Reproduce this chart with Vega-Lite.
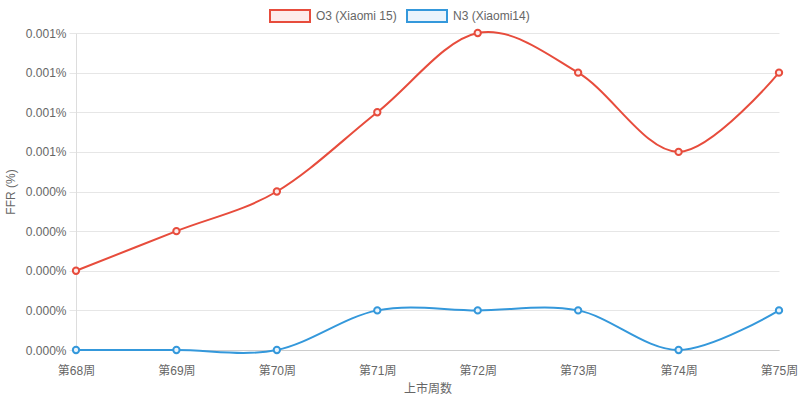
{
  "$schema": "https://vega.github.io/schema/vega-lite/v6.json",
  "autosize": {"type": "fit", "contains": "padding"},
  "width": 800,
  "height": 401,
  "padding": {"left": 4, "right": 2, "top": 25, "bottom": 7},
  "config": {
    "view": {"stroke": null},
    "font": "Liberation Sans, Noto Sans CJK SC",
    "axis": {
      "labelFont": "Liberation Sans, Noto Sans CJK SC",
      "titleFont": "Liberation Sans, Noto Sans CJK SC",
      "labelFontSize": 12,
      "labelColor": "#666666",
      "titleFontSize": 12,
      "titleFontWeight": "normal",
      "titleColor": "#666666",
      "gridColor": "#e6e6e6",
      "domainColor": "#dddddd",
      "tickColor": "#e6e6e6"
    },
    "legend": {
      "labelFont": "Liberation Sans, Noto Sans CJK SC",
      "labelFontSize": 12,
      "labelColor": "#666666"
    }
  },
  "data": {
    "values": [
      {"week": "第68周", "series": "O3 (Xiaomi 15)", "ffr": 0.0002},
      {"week": "第69周", "series": "O3 (Xiaomi 15)", "ffr": 0.0003},
      {"week": "第70周", "series": "O3 (Xiaomi 15)", "ffr": 0.0004},
      {"week": "第71周", "series": "O3 (Xiaomi 15)", "ffr": 0.0006},
      {"week": "第72周", "series": "O3 (Xiaomi 15)", "ffr": 0.0008},
      {"week": "第73周", "series": "O3 (Xiaomi 15)", "ffr": 0.0007},
      {"week": "第74周", "series": "O3 (Xiaomi 15)", "ffr": 0.0005},
      {"week": "第75周", "series": "O3 (Xiaomi 15)", "ffr": 0.0007},
      {"week": "第68周", "series": "N3 (Xiaomi14)", "ffr": 0},
      {"week": "第69周", "series": "N3 (Xiaomi14)", "ffr": 0},
      {"week": "第70周", "series": "N3 (Xiaomi14)", "ffr": 0},
      {"week": "第71周", "series": "N3 (Xiaomi14)", "ffr": 0.0001},
      {"week": "第72周", "series": "N3 (Xiaomi14)", "ffr": 0.0001},
      {"week": "第73周", "series": "N3 (Xiaomi14)", "ffr": 0.0001},
      {"week": "第74周", "series": "N3 (Xiaomi14)", "ffr": 0},
      {"week": "第75周", "series": "N3 (Xiaomi14)", "ffr": 0.0001}
    ]
  },
  "encoding": {
    "x": {
      "field": "week",
      "type": "ordinal",
      "sort": null,
      "scale": {"type": "point", "padding": 0},
      "axis": {
        "title": "上市周数",
        "labelAngle": 0,
        "ticks": false,
        "grid": false,
        "labelPadding": 15,
        "titlePadding": 7,
        "domainColor": "#cccccc"
      }
    },
    "y": {
      "field": "ffr",
      "type": "quantitative",
      "scale": {"domain": [0, 0.0008]},
      "axis": {
        "title": "FFR (%)",
        "values": [0, 0.0001, 0.0002, 0.0003, 0.0004, 0.0005, 0.0006, 0.0007, 0.0008],
        "labelExpr": "format(datum.value, '.3f') + '%'",
        "tickSize": 7,
        "labelPadding": 3,
        "titlePadding": 8
      }
    },
    "color": {
      "field": "series",
      "type": "nominal",
      "sort": null,
      "scale": {"domain": ["O3 (Xiaomi 15)", "N3 (Xiaomi14)"], "range": ["#e74c3c", "#3498db"]},
      "legend": {
        "orient": "none",
        "legendX": 193,
        "legendY": -38,
        "direction": "horizontal",
        "title": null,
        "symbolType": "M-1,-0.3H1V0.3H-1Z",
        "symbolSize": 1600,
        "symbolStrokeWidth": 2,
        "labelOffset": 5,
        "columnPadding": 6,
        "encode": {
          "symbols": {
            "update": {
              "fill": {"scale": "fill", "field": "value"},
              "fillOpacity": {"value": 1}
            }
          }
        }
      }
    }
  },
  "layer": [
    {
      "mark": {"type": "line", "interpolate": "cardinal", "strokeWidth": 2}
    },
    {
      "mark": {"type": "point", "filled": false, "size": 40, "strokeWidth": 2, "opacity": 1},
      "encoding": {
        "fill": {
          "field": "series",
          "type": "nominal",
          "scale": {"domain": ["O3 (Xiaomi 15)", "N3 (Xiaomi14)"], "range": ["#fdeceb", "#eaf4fc"]},
          "legend": null
        }
      }
    }
  ]
}
